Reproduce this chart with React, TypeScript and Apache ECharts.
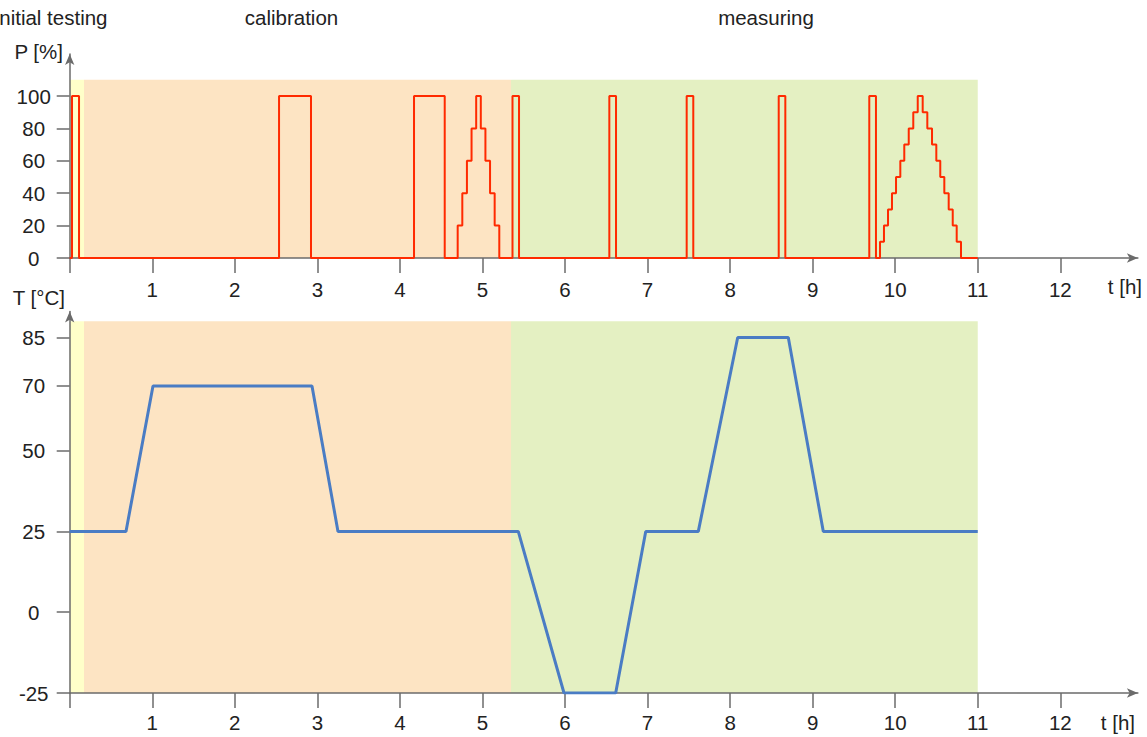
import React, { useEffect, useRef } from "react";
import * as echarts from "echarts";

// ---- data ----
const powerTimes = [
  0, 0.028, 0.113, 2.536, 2.923, 4.171, 4.543,
  4.7, 4.756, 4.812, 4.868, 4.924, 4.98, 5.036, 5.092, 5.148, 5.204,
  5.364, 5.443, 6.537, 6.618, 7.474, 7.554, 8.589, 8.669, 9.686, 9.767,
  9.816, 9.864, 9.913, 9.961, 10.01, 10.062, 10.11, 10.164, 10.219, 10.273,
  10.333, 10.389, 10.446, 10.498, 10.546, 10.595, 10.648, 10.697, 10.745, 10.797, 11,
];
const powerValues = [
  0, 100, 0, 100, 0, 100, 0,
  20, 40, 60, 80, 100, 80, 60, 40, 20, 0,
  100, 0, 100, 0, 100, 0, 100, 0, 100, 0,
  10, 20, 30, 40, 50, 60, 70, 80, 90, 100,
  90, 80, 70, 60, 50, 40, 30, 20, 10, 0, 0,
];
const tempTimes = [0, 0.682, 1.009, 2.935, 3.25, 5.434, 5.988, 6.614, 6.978, 7.615, 8.092, 8.705, 9.129, 11];
const tempValues = [25, 25, 70, 70, 25, 25, -25, -25, 25, 25, 85, 85, 25, 25];

const timeTicks = [0, 1, 2, 3, 4, 5, 6, 7, 8, 9, 10, 11, 12];
const timeLabels = [1, 2, 3, 4, 5, 6, 7, 8, 9, 10, 11, 12];
const powerTicks = [0, 20, 40, 60, 80, 100];
const tempTicks = [-25, 0, 25, 50, 70, 85];

const phaseNames = ["initial testing", "calibration", "measuring"];
const phaseStart = [0, 0.173, 5.346];
const phaseEnd = [0.173, 5.346, 11];

// ---- style ----
const FONT = "'Liberation Sans', Arial, sans-serif";
const FS = 20.5;
const TEXT = "#222";
const AXIS = "#6b6b6b";
const PHASE_COLORS = ["rgba(255,255,120,0.4)", "#fde4c3", "#e4f0c2"];
const X0 = 69.7;
const PXH = 82.55;
const XMAX = 12.94;

function xAxisCfg(gridIndex: number, margin: number) {
  return {
    type: "value",
    gridIndex,
    min: 0,
    max: XMAX,
    z: 3,
    axisLine: {
      show: true,
      onZero: false,
      symbol: ["none", "arrow"],
      symbolSize: [7, 11],
      lineStyle: { color: AXIS, width: 1.5 },
    },
    axisTick: { show: true, customValues: timeTicks, length: 15, lineStyle: { color: AXIS, width: 1.5 } },
    axisLabel: { show: true, customValues: timeLabels, margin, fontSize: FS, color: TEXT, fontFamily: FONT },
    splitLine: { show: false },
  };
}

function yAxisCfg(gridIndex: number, min: number, max: number, ticks: number[]) {
  return {
    type: "value",
    gridIndex,
    min,
    max,
    z: 3,
    axisLine: {
      show: true,
      onZero: false,
      symbol: ["none", "arrow"],
      symbolSize: [7, 11],
      lineStyle: { color: AXIS, width: 1.5 },
    },
    axisTick: { show: true, customValues: ticks, length: 13, lineStyle: { color: AXIS, width: 1.5 } },
    axisLabel: { show: true, customValues: ticks, margin: 36, align: "center", fontSize: FS, color: TEXT, fontFamily: FONT },
    splitLine: { show: false },
  };
}

function bands(idx: number[], top: number, bottom: number) {
  return idx.map((i) => [
    { xAxis: phaseStart[i], yAxis: bottom, itemStyle: { color: PHASE_COLORS[i] } },
    { xAxis: phaseEnd[i], yAxis: top },
  ]);
}

function bandSeries(axisIndex: number, idx: number[], top: number, bottom: number, z: number) {
  return {
    type: "line",
    xAxisIndex: axisIndex,
    yAxisIndex: axisIndex,
    data: [],
    z,
    silent: true,
    markArea: { silent: true, data: bands(idx, top, bottom) },
  };
}

function txt(text: string, x: number, y: number, align: string) {
  return {
    type: "text",
    x,
    y,
    silent: true,
    style: { text, fill: TEXT, font: `${FS}px ${FONT}`, align, verticalAlign: "middle" },
  };
}

export default function App() {
  const ref = useRef<HTMLDivElement>(null);
  useEffect(() => {
    if (!ref.current) return;
    const chart = echarts.init(ref.current, null, { renderer: "svg" });
    const width = XMAX * PXH;
    const option = {
      animation: false,
      backgroundColor: "#ffffff",
      grid: [
        { left: X0, top: 258 - 126 * 1.62, width, height: 126 * 1.62, containLabel: false, outerBoundsMode: "none" },
        { left: X0, top: 693 - 118 * 3.232, width, height: 118 * 3.232, containLabel: false, outerBoundsMode: "none" },
      ],
      xAxis: [xAxisCfg(0, 21), xAxisCfg(1, 19)],
      yAxis: [yAxisCfg(0, 0, 126, powerTicks), yAxisCfg(1, -25, 93, tempTicks)],
      series: [
        bandSeries(0, [1, 2], 110, 0, 1),
        bandSeries(1, [1, 2], 90, -25, 1),
        {
          name: "P",
          type: "line",
          xAxisIndex: 0,
          yAxisIndex: 0,
          step: "end",
          showSymbol: false,
          z: 4,
          lineStyle: { color: "#ff2a00", width: 2 },
          data: powerTimes.map((t, i) => [t, powerValues[i]]),
        },
        {
          name: "T",
          type: "line",
          xAxisIndex: 1,
          yAxisIndex: 1,
          showSymbol: false,
          z: 4,
          lineStyle: { color: "#4a7cc4", width: 3 },
          data: tempTimes.map((t, i) => [t, tempValues[i]]),
        },
        bandSeries(0, [0], 110, 0, 5),
        bandSeries(1, [0], 90, -25, 5),
      ],
      graphic: [
        txt(phaseNames[0], 107.5, 17, "right"),
        txt(phaseNames[1], 291.5, 17, "center"),
        txt(phaseNames[2], 766, 17, "center"),
        txt("P [%]", 63, 51, "right"),
        txt("T [°C]", 65, 297, "right"),
        txt("t [h]", 1142, 286, "right"),
        txt("t [h]", 1135, 722, "right"),
      ],
    };
    chart.setOption(option as any);
    return () => chart.dispose();
  }, []);
  return (
    <div
      ref={ref}
      style={{ position: "absolute", left: 0, top: 0, width: 1147, height: 737, background: "#fff" }}
    />
  );
}
